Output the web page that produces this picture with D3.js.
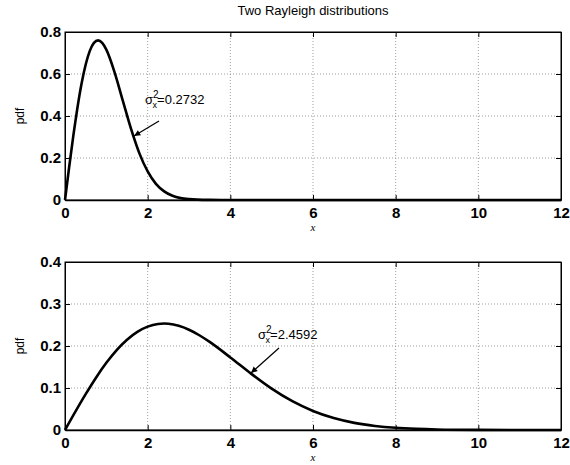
<!DOCTYPE html>
<html>
    <head>
        <script src="https://d3js.org/d3.v7.min.js"></script>
        <style>
            body { margin: 0; background: #fff; }
            .tick text { font-family: "Liberation Sans", Arial, sans-serif; font-weight: bold; font-size: 15px; }
        </style>
    </head>
    <body>
        <svg width="570" height="465"></svg>

        <script>
            "use strict";

            // values
            var xTop = [0, 0.1, 0.2, 0.4, 0.6, 0.7, 0.8, 0.9, 1.0, 1.2, 1.4, 1.6, 1.8, 2.0, 2.2, 2.4, 2.6, 2.8, 3.0, 3.2, 3.5, 4, 6, 8, 10, 12];
            var yTop = [0, 0.156, 0.304, 0.554, 0.710, 0.748, 0.760, 0.748, 0.716, 0.608, 0.472, 0.337, 0.222, 0.136, 0.077, 0.041, 0.020, 0.009, 0.004, 0.0016, 0.0004, 0, 0, 0, 0, 0];
            var xBot = [0, 0.5, 0.75, 1, 1.25, 1.5, 1.75, 2, 2.25, 2.4, 2.5, 2.75, 3, 3.25, 3.5, 4, 4.5, 5, 5.5, 6, 6.5, 7, 7.5, 8, 8.5, 9, 10, 11, 12];
            var yBot = [0, 0.0854, 0.1246, 0.1599, 0.1904, 0.2151, 0.2338, 0.2462, 0.2525, 0.2534, 0.2529, 0.2481, 0.2387, 0.2256, 0.2097, 0.1728, 0.1342, 0.0985, 0.0685, 0.0453, 0.0284, 0.0170, 0.0097, 0.0052, 0.0027, 0.0013, 0.0003, 0.00005, 0];
            var xTicks = [0, 2, 4, 6, 8, 10, 12];
            var yTicksTop = [0, 0.2, 0.4, 0.6, 0.8];
            var yTicksBot = [0, 0.1, 0.2, 0.3, 0.4];
            var labelTop = "0.2732";
            var labelBot = "2.4592";

            var svg = d3.select("svg");

            svg.append("text")
                .attr("x", 313).attr("y", 15)
                .attr("text-anchor", "middle")
                .style("font-family", "Liberation Sans, Arial, sans-serif")
                .style("font-size", "13px")
                .text("Two Rayleigh distributions");

            function panel(top, bottom, xs, ys, yMax, yTicks, fmt, note) {
                var x = d3.scaleLinear().domain([0, 12]).range([65, 561]),
                    y = d3.scaleLinear().domain([0, yMax]).range([bottom, top]);
                var g = svg.append("g");

                // dotted grid
                g.selectAll(".gx").data(xTicks.slice(1, -1)).enter().append("line")
                    .attr("x1", d => x(d)).attr("x2", d => x(d))
                    .attr("y1", top).attr("y2", bottom)
                    .attr("stroke", "#777").attr("stroke-width", 0.7).attr("stroke-dasharray", "1,2");
                g.selectAll(".gy").data(yTicks.slice(1, -1)).enter().append("line")
                    .attr("x1", x(0)).attr("x2", x(12))
                    .attr("y1", d => y(d)).attr("y2", d => y(d))
                    .attr("stroke", "#777").attr("stroke-width", 0.7).attr("stroke-dasharray", "1,2");

                // box
                g.append("rect")
                    .attr("x", x(0)).attr("y", top)
                    .attr("width", x(12) - x(0)).attr("height", bottom - top)
                    .attr("fill", "none").attr("stroke", "#000").attr("stroke-width", 1);

                g.append("g").attr("transform", "translate(0," + bottom + ")")
                    .call(d3.axisBottom(x).tickValues(xTicks).tickFormat(d3.format("d")).tickSizeInner(-5).tickSizeOuter(0).tickPadding(7))
                    .call(a => a.select(".domain").attr("stroke-width", 1.5));
                g.append("g").attr("transform", "translate(0," + top + ")")
                    .call(d3.axisTop(x).tickValues(xTicks).tickFormat("").tickSizeInner(-5).tickSizeOuter(0));
                g.append("g").attr("transform", "translate(" + x(0) + ",0)")
                    .call(d3.axisLeft(y).tickValues(yTicks).tickFormat(fmt).tickSizeInner(-5).tickSizeOuter(0).tickPadding(4));
                g.append("g").attr("transform", "translate(" + x(12) + ",0)")
                    .call(d3.axisRight(y).tickValues(yTicks).tickFormat("").tickSizeInner(-5).tickSizeOuter(0));

                g.selectAll(".tick text").attr("fill", "#000");

                g.append("text")
                    .attr("transform", "translate(24," + ((top + bottom) / 2) + ") rotate(-90)")
                    .attr("text-anchor", "middle")
                    .style("font-family", "Liberation Sans, Arial, sans-serif")
                    .style("font-size", "12px")
                    .text("pdf");

                g.append("text")
                    .attr("x", x(6)).attr("y", bottom + 31)
                    .attr("text-anchor", "middle")
                    .style("font-family", "Liberation Serif, Times New Roman, serif")
                    .style("font-style", "italic")
                    .style("font-size", "11px")
                    .text("x");

                var line = d3.line().x((d, i) => x(xs[i])).y(d => y(d)).curve(d3.curveMonotoneX);
                g.append("path")
                    .attr("d", line(ys))
                    .attr("fill", "none").attr("stroke", "#000").attr("stroke-width", 2.6);

                // annotation with arrow
                var t = g.append("text")
                    .attr("x", note.tx).attr("y", note.ty)
                    .style("font-family", "Liberation Sans, Arial, sans-serif")
                    .style("font-size", "13px");
                t.append("tspan").text("σ");
                t.append("tspan").attr("dy", -6).attr("font-size", "10px").text("2");
                t.append("tspan").attr("dx", -6).attr("dy", 10).attr("font-size", "9px").text("x");
                t.append("tspan").attr("dy", -4).text("=" + note.label);

                var ax0 = note.ax0, ay0 = note.ay0, ax1 = note.ax1, ay1 = note.ay1;
                var ang = Math.atan2(ay1 - ay0, ax1 - ax0);
                g.append("line")
                    .attr("x1", ax0).attr("y1", ay0).attr("x2", ax1).attr("y2", ay1)
                    .attr("stroke", "#000").attr("stroke-width", 1.2);
                var hl = 7, hw = 0.45;
                g.append("path")
                    .attr("d", "M" + ax1 + "," + ay1 +
                        "L" + (ax1 - hl * Math.cos(ang - hw)) + "," + (ay1 - hl * Math.sin(ang - hw)) +
                        "L" + (ax1 - hl * Math.cos(ang + hw)) + "," + (ay1 - hl * Math.sin(ang + hw)) + "Z")
                    .attr("fill", "#000");
            }

            panel(32, 200, xTop, yTop, 0.8, yTicksTop, d => d === 0 ? "0" : d3.format(".1f")(d),
                { tx: 145, ty: 104, label: labelTop, ax0: 159, ay0: 121, ax1: 134, ay1: 136 });
            panel(262, 430, xBot, yBot, 0.4, yTicksBot, d => d === 0 ? "0" : d3.format(".1f")(d),
                { tx: 258, ty: 339, label: labelBot, ax0: 279, ay0: 348, ax1: 251, ay1: 373 });
        </script>
    </body>
</html>
